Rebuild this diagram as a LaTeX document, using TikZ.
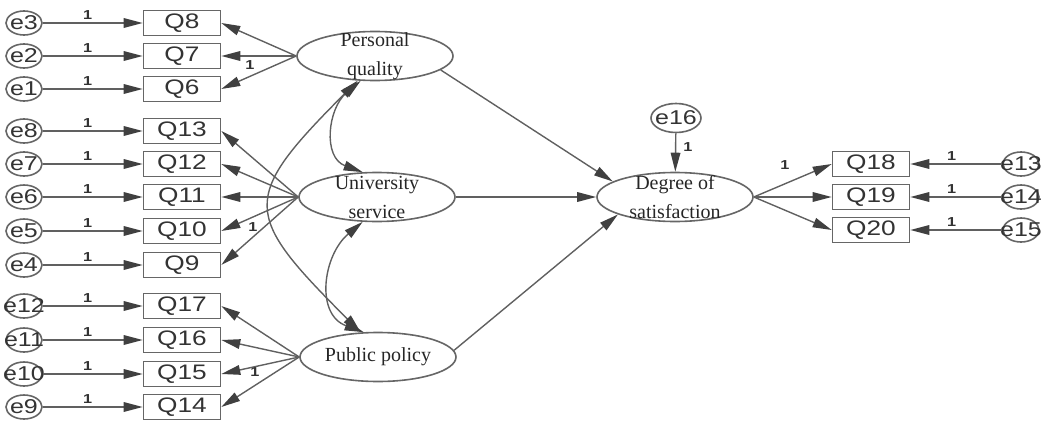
\documentclass[tikz,border=0pt]{standalone}
\usepackage{fontspec}
\setmainfont{Liberation Serif}
\newfontfamily\qfont[FakeStretch=1.25]{Liberation Sans}
\usetikzlibrary{shapes.geometric,arrows.meta}

\begin{document}
\begin{tikzpicture}[x=0.5pt,y=-0.5pt,>={Triangle[length=9.5pt,width=4.8pt,color=black!75]},
  line/.style={draw=gray!75!black, line width=0.7pt},
  ind/.style={draw=gray!80!black, line width=0.8pt, minimum width=38.5pt, minimum height=12.5pt,
    inner sep=0pt, text=black!80, font=\qfont\fontsize{10.5}{12}\selectfont},
  err/.style={ellipse, draw=gray!80!black, line width=0.8pt, minimum width=18pt, minimum height=12pt, inner sep=0pt},
  errtext/.style={text=black!80, font=\qfont\fontsize{10}{11}\selectfont},
  latent/.style={ellipse, draw=gray!80!black, line width=0.8pt, minimum width=78pt, minimum height=24.5pt, inner sep=0pt},
  lattext/.style={align=center, text=black!85, font=\fontsize{10}{14.5}\selectfont},
  one/.style={text=black!80, inner sep=1.5pt, font=\qfont\bfseries\fontsize{6.5}{7}\selectfont}
]

%%%%%%%%%%%%%%%%%%%%%%%%%%%%%%%%%%%%%%%%%%
  \useasboundingbox (0,0) rectangle (1045,423);

  % Latent variables
  \node[latent, label={[lattext]center:Personal\\quality}] (pq) at (375,56) {};
  \node[latent, label={[lattext]center:University\\service}] (us) at (377,197) {};
  \node[latent, label={[lattext]center:Public policy}] (pp) at (378,357) {};
  \node[latent, label={[lattext]center:Degree of\\satisfaction}] (ds) at (675,197) {};

  % Left indicators and their errors
  \foreach \e/\q/\y in {3/8/23, 2/7/56, 1/6/89, 8/13/131, 7/12/164, 6/11/197,
      5/10/231, 4/9/265, 12/17/306, 11/16/340, 10/15/374, 9/14/407} {
    \node[err, label={[errtext]center:e\e}] (e\e) at (24,\y) {};
    \node[ind] (q\q) at (182,\y) {Q\q};
    \draw[line,->] (e\e) -- node[one, above, pos=0.45] (one\e) {1} (q\q);
  }

  % Loadings
  \foreach \q in {8,7,6} \draw[line,->] (pq.west) -- (q\q.east);
  \foreach \q in {13,12,11,10,9} \draw[line,->] (us.west) -- (q\q.east);
  \foreach \q in {17,16,15,14} \draw[line,->] (pp.west) -- (q\q.east);
  \node[one] (onepq) at (250,65) {1};
  \node[one] (oneus) at (253,227) {1};
  \node[one] (onepp) at (255,372) {1};

  % Covariances
  \draw[line,<->] (pq.-120) to[out=220,in=160,looseness=1.2] (us.120);
  \draw[line,<->] (us.-120) to[out=220,in=160,looseness=1.2] (pp.120);
  \draw[line,<->] (pq.-125) to[out=225,in=135,looseness=1.7] (pp.125);

  % Paths to satisfaction
  \draw[line,->] (pq.-12) -- (ds.166);
  \draw[line,->] (us) -- (ds);
  \draw[line,->] (pp.5) -- (ds.197);

  % Disturbance
  \node[err, minimum width=25pt, minimum height=14.5pt, label={[errtext]center:e16}] (e16) at (676,118) {};
  \draw[line,->] (e16) -- (ds);
  \node[one] (oneds) at (688,147) {1};

  % Right indicators and their errors
  \foreach \e/\q/\y in {13/18/164, 14/19/197, 15/20/230} {
    \node[ind] (q\q) at (871,\y) {Q\q};
    \node[err, label={[errtext]center:e\e}] (e\e) at (1021,\y) {};
    \draw[line,->] (ds.east) -- (q\q.west);
    \draw[line,->] (e\e) -- node[one, above, pos=0.55] (one\e) {1} (q\q);
  }
  \node[one] (onesat) at (785,165) {1};

\end{tikzpicture}
\end{document}
